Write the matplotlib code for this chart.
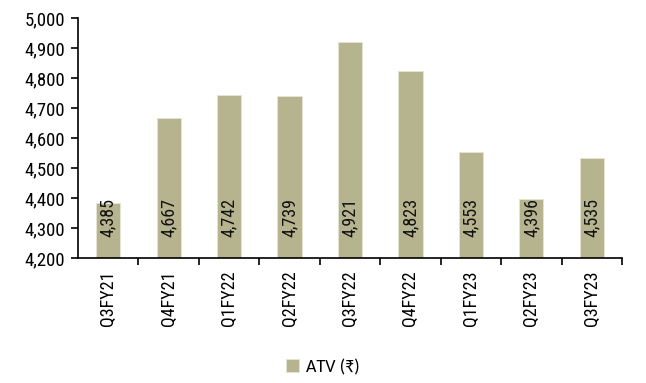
import matplotlib
matplotlib.use("Agg")
import matplotlib.pyplot as plt
from matplotlib.ticker import FuncFormatter, FixedLocator

quarters = ["Q3FY21", "Q4FY21", "Q1FY22", "Q2FY22", "Q3FY22",
            "Q4FY22", "Q1FY23", "Q2FY23", "Q3FY23"]
atv = [4385, 4667, 4742, 4739, 4921, 4823, 4553, 4396, 4535]
series_label = "ATV (₹)"

narrow = ["Roboto Condensed", "DejaVu Sans"]
bar_color = "#B6B38F"

fig = plt.figure(figsize=(6.46, 3.83), dpi=100)
ax = fig.add_axes([78 / 646, 1 - 258 / 383, (622 - 78) / 646, 240 / 383])

x = list(range(len(quarters)))
bars = ax.bar(x, atv, width=0.4, color=bar_color, edgecolor="#E6E4D2",
              linewidth=0.6, label=series_label, zorder=2)

for xi, v in zip(x, atv):
    ax.annotate(f"{v:,}", xy=(xi, 4200), xytext=(0, 15),
                textcoords="offset points", rotation=90,
                ha="center", va="bottom", fontsize=13, family=narrow,
                color="#111111", zorder=3)

ax.set_ylim(4200, 5000)
ax.set_xlim(-0.5, len(quarters) - 0.5)
ax.set_yticks(range(4200, 5001, 100))
ax.yaxis.set_major_formatter(FuncFormatter(lambda v, p: f"{int(v):,}"))

# category labels at centres, tick marks at category boundaries
ax.set_xticks(x)
ax.set_xticklabels(quarters, rotation=90, family=narrow, fontsize=13)
ax.tick_params(axis="x", which="major", length=0, pad=9)
ax.xaxis.set_minor_locator(FixedLocator([i + 0.5 for i in range(len(quarters))]))
ax.tick_params(axis="x", which="minor", length=5, width=1.2, direction="out")

ax.tick_params(axis="y", length=5, width=1.2, direction="out", labelsize=13.5, pad=4)
for lab in ax.get_yticklabels():
    lab.set_family(narrow)

for side in ("top", "right"):
    ax.spines[side].set_visible(False)
for side in ("left", "bottom"):
    ax.spines[side].set_linewidth(1.2)
    ax.spines[side].set_color("#000000")

fig.legend(handles=[bars], labels=[series_label], loc="center",
           bbox_to_anchor=(0.5, 1 - 367 / 383), frameon=False,
           prop={"family": ["Carlito", "DejaVu Sans"], "size": 13},
           handlelength=0.7, handleheight=0.7, handletextpad=0.4)

fig.savefig("out.png", dpi=100)
